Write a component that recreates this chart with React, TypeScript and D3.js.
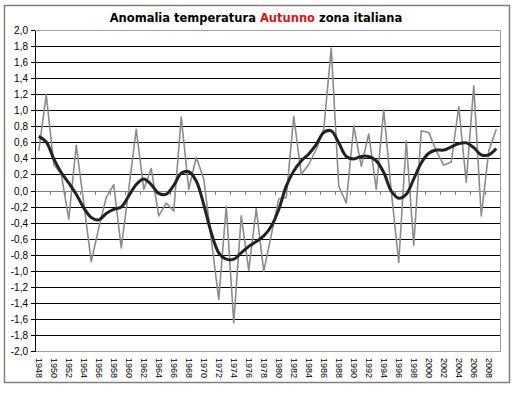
import * as d3 from "d3";

const years = d3.range(1948, 2010);

// annual autumn anomaly (grey line)
const annual = [
  0.5, 1.2, 0.33, 0.21, -0.35, 0.57, -0.15, -0.88, -0.46, -0.08,
  0.08, -0.71, 0.02, 0.77, 0.02, 0.28, -0.31, -0.15, -0.25, 0.92,
  0.02, 0.42, 0.15, -0.6, -1.35, -0.19, -1.64, -0.31, -0.99, -0.22,
  -1.0, -0.55, -0.1, -0.08, 0.93, 0.21, 0.33, 0.52, 0.77, 1.78,
  0.06, -0.15, 0.81, 0.31, 0.71, 0.02, 1.01, 0.0, -0.89, 0.625,
  -0.675, 0.75, 0.73, 0.5, 0.32, 0.36, 1.05, 0.11, 1.31, -0.31,
  0.5, 0.77,
];

// smoothed trend (black line)
const smooth = [
  0.68, 0.61, 0.4, 0.23, 0.1, -0.04, -0.21, -0.33, -0.36, -0.28,
  -0.23, -0.2, -0.06, 0.08, 0.15, 0.08, -0.03, -0.04, 0.07, 0.22,
  0.24, 0.125, -0.17, -0.52, -0.77, -0.85, -0.85, -0.77, -0.69, -0.63,
  -0.56, -0.44, -0.23, 0.06, 0.25, 0.375, 0.46, 0.58, 0.73, 0.75,
  0.6, 0.43, 0.4, 0.43, 0.43, 0.375, 0.23, 0.0, -0.09, -0.04,
  0.15, 0.35, 0.47, 0.51, 0.51, 0.55, 0.59, 0.6, 0.54, 0.45,
  0.45, 0.53,
];

const yTicks = d3.range(-10, 11).map((d) => d / 5);
const xLabelYears = years.filter((d) => (d - 1948) % 2 === 0);

const W = 515;
const H = 394;
const left = 35;
const right = 500;
const top = 30.5;
const bottom = 351.5;

export default function App() {
  const x = d3.scaleBand<number>().domain(years).range([left, right]);
  const cx = (yr: number) => (x(yr) || 0) + x.bandwidth() / 2;
  const y = d3.scaleLinear().domain([-2, 2]).range([bottom, top]);
  const fmt = (v: number) => d3.format(".1f")(v).replace(".", ",").replace("−", "-");

  const rawLine = d3
    .line<number>()
    .x((_, i) => cx(years[i]))
    .y((d) => y(d));
  const smoothLine = d3
    .line<number>()
    .x((_, i) => cx(years[i]))
    .y((d) => y(d))
    .curve(d3.curveCatmullRom.alpha(0.5));

  return (
    <svg width={W} height={H} style={{ position: "absolute", left: 0, top: 0 }}>
      <rect x={0} y={0} width={W} height={H} fill="#fff" />
      <rect x={4.5} y={5.5} width={505} height={377} fill="#fff" stroke="#808080" strokeWidth={1.5} />

      <text
        x={256}
        y={22}
        textAnchor="middle"
        fontFamily="DejaVu Sans"
        fontWeight="bold"
        fontSize={11.5}
      >
        Anomalia temperatura <tspan fill="#e01010">Autunno</tspan> zona italiana
      </text>

      {/* gridlines */}
      <g shapeRendering="crispEdges">
        {yTicks.map((t) =>
          t > -2 && t < 2 && t !== 0 ? (
            <line key={t} x1={left} x2={right} y1={y(t)} y2={y(t)} stroke="#000" strokeWidth={1} />
          ) : null
        )}
        <rect x={left} y={top} width={right - left} height={bottom - top} fill="none" stroke="#a0a0a0" strokeWidth={1} />

        {/* category axis at zero */}
        <line x1={left} x2={right} y1={y(0)} y2={y(0)} stroke="#808080" strokeWidth={1} />
        {xLabelYears.map((yr) => (
          <line
            key={yr}
            x1={x(yr) || 0}
            x2={x(yr) || 0}
            y1={y(0)}
            y2={y(0) + 4}
            stroke="#808080"
          />
        ))}

        {/* value axis */}
        <line x1={left} x2={left} y1={top} y2={bottom} stroke="#000" />
        {yTicks.map((t) => (
          <line key={t} x1={left - 4} x2={left} y1={y(t)} y2={y(t)} stroke="#000" />
        ))}
      </g>

      {yTicks.map((t) => (
        <text
          key={t}
          x={28}
          y={y(t)}
          dy="0.35em"
          textAnchor="end"
          fontFamily="Liberation Sans"
          fontSize={10}
        >
          {fmt(t)}
        </text>
      ))}

      {xLabelYears.map((yr) => (
        <text
          key={yr}
          transform={`translate(${cx(yr)},358) rotate(90)`}
          dy="0.35em"
          fontFamily="Liberation Sans"
          fontSize={9}
        >
          {yr}
        </text>
      ))}

      <path d={rawLine(annual) || ""} fill="none" stroke="#8c8c8c" strokeWidth={1.6} strokeLinejoin="round" />
      <path d={smoothLine(smooth) || ""} fill="none" stroke="#222" strokeWidth={3} strokeLinejoin="round" />
    </svg>
  );
}
